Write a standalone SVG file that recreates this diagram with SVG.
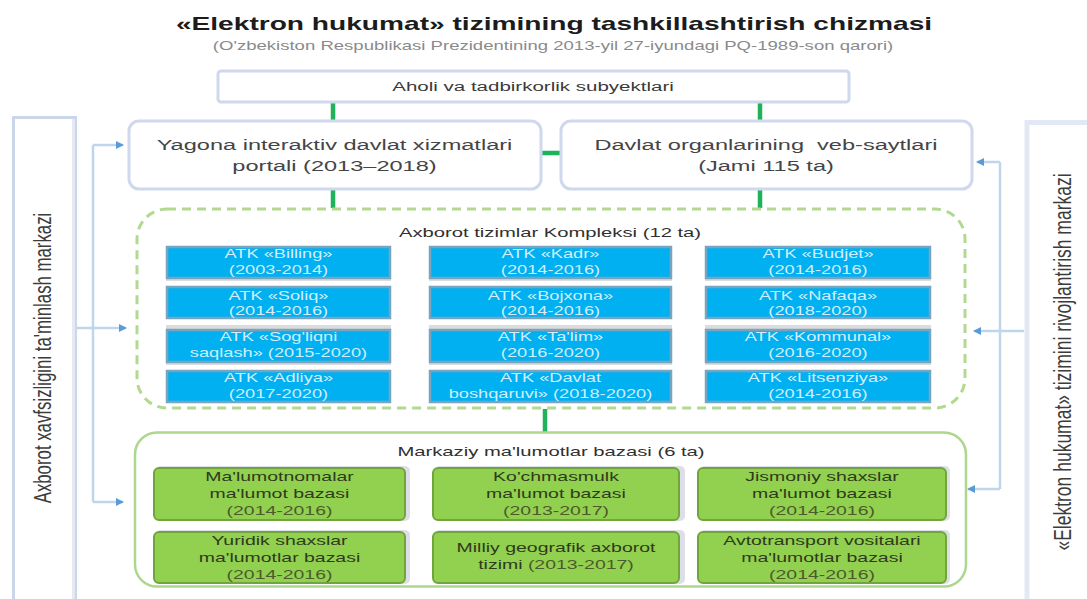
<svg xmlns="http://www.w3.org/2000/svg" width="1087" height="599" viewBox="0 0 1087 599">
<defs>
<style>
text{font-family:"Liberation Sans",Arial,sans-serif;text-anchor:middle}
.title{font-size:18.5px;font-weight:bold;fill:#1c1c1c}
.sub{font-size:12.2px;fill:#8a8a8a}
.top{font-size:13.5px;fill:#3a3a3a}
.big{font-size:15.5px;fill:#454545}
.cap{font-size:13.3px;fill:#303030}
.side{font-size:16.8px;fill:#3c3c3c}
.side2{font-size:17.5px;fill:#3c3c3c}
.bt{font-size:12px;fill:#d2edfc}
.gt{font-size:12.8px;fill:#2f3a1c}
.gy{font-size:12.8px;fill:#4c5a2c}
.wbox{fill:#fff;stroke:#cfd8ec;stroke-width:3}
.blue{fill:#00b0f0;stroke:#78a4c0;stroke-width:2.5}
.bsh{fill:#dcdcdc}
.green{fill:#92d050;stroke:#6fa53a;stroke-width:2}
.gsh{fill:#dedee6}
.gl{stroke:#1eb35a;stroke-width:4.5;fill:none}
.bl{stroke:#bdd6ee;stroke-width:2.5;fill:none}
</style>
<marker id="arr" viewBox="0 0 8 8" refX="7" refY="4" markerWidth="8" markerHeight="8" markerUnits="userSpaceOnUse" orient="auto">
<path d="M0,0 L8,4 L0,8 z" fill="#5b9bd5"/>
</marker>
</defs>
<rect width="1087" height="599" fill="#fff"/>

<g id="title">
<text class="title" transform="matrix(1.52 0 0 1 554 30)">«Elektron hukumat» tizimining tashkillashtirish chizmasi</text>
<text class="sub" transform="matrix(1.52 0 0 1 553 50)">(O'zbekiston Respublikasi Prezidentining 2013-yil 27-iyundagi PQ-1989-son qarori)</text>
</g>

<g id="left-center">
<rect x="13.5" y="117.5" width="62" height="500" fill="none" stroke="#ccd6ea" stroke-width="3"/>
<line x1="73.5" y1="119" x2="73.5" y2="599" stroke="#e4e9f4" stroke-width="3"/>
<text class="side" transform="matrix(0 -1 1.38 0 51 358)">Axborot xavfsizligini ta'minlash markazi</text>
</g>

<g id="right-center">
<rect x="1027" y="122.5" width="80" height="500" fill="none" stroke="#e3e9f4" stroke-width="5"/>
<text class="side2" transform="matrix(0 -1 1.38 0 1071 362)">«Elektron hukumat» tizimini rivojlantirish markazi</text>
</g>

<g id="connectors">
<path class="gl" d="M333 103 V120 M760 103 V120 M542 153 H560 M333 190 V208 M760 190 V208 M545 409 V432"/>
<path class="bl" d="M93 145 V502"/>
<path class="bl" d="M93 145 H123" marker-end="url(#arr)"/>
<path class="bl" d="M77 328 H126" marker-end="url(#arr)"/>
<path class="bl" d="M93 502 H123" marker-end="url(#arr)"/>
<path class="bl" d="M1000 162 V489"/>
<path class="bl" d="M1000 162 H977" marker-end="url(#arr)"/>
<path class="bl" d="M1024 331 H974" marker-end="url(#arr)"/>
<path class="bl" d="M1000 489 H968" marker-end="url(#arr)"/>
</g>

<g id="aholi">
<rect class="wbox" x="218" y="71" width="631" height="31" rx="3"/>
<text class="top" transform="matrix(1.52 0 0 1 533 91)">Aholi va tadbirkorlik subyektlari</text>
</g>

<g id="portal">
<rect class="wbox" x="129" y="121" width="412" height="68" rx="10"/>
<text class="big" transform="matrix(1.52 0 0 1 334.5 150)">Yagona interaktiv davlat xizmatlari</text>
<text class="big" transform="matrix(1.52 0 0 1 334.5 171)">portali (2013–2018)</text>
</g>

<g id="saytlar">
<rect class="wbox" x="561" y="121" width="411" height="68" rx="10"/>
<text class="big" transform="matrix(1.52 0 0 1 766 150)" xml:space="preserve">Davlat organlarining  veb-saytlari</text>
<text class="big" transform="matrix(1.52 0 0 1 766 171)">(Jami 115 ta)</text>
</g>

<g id="atk-complex">
<rect x="137" y="209" width="828" height="199" rx="30" fill="none" stroke="#b2d98f" stroke-width="3" stroke-dasharray="9 6"/>
<text class="cap" transform="matrix(1.52 0 0 1 550 237)">Axborot tizimlar Kompleksi (12 ta)</text>
</g>

<g id="atk-billing"><rect class="bsh" x="166" y="277" width="225" height="4"/><rect class="blue" x="167" y="247" width="223" height="31"/>
<text class="bt" transform="matrix(1.52 0 0 1 278.5 258)">ATK «Billing»</text><text class="bt" transform="matrix(1.52 0 0 1 278.5 274)">(2003-2014)</text></g>
<g id="atk-kadr"><rect class="bsh" x="429" y="277" width="243" height="4"/><rect class="blue" x="430" y="247" width="241" height="31"/>
<text class="bt" transform="matrix(1.52 0 0 1 550.5 258)">ATK «Kadr»</text><text class="bt" transform="matrix(1.52 0 0 1 550.5 274)">(2014-2016)</text></g>
<g id="atk-budjet"><rect class="bsh" x="705" y="277" width="226" height="4"/><rect class="blue" x="706" y="247" width="224" height="31"/>
<text class="bt" transform="matrix(1.52 0 0 1 818 258)">ATK «Budjet»</text><text class="bt" transform="matrix(1.52 0 0 1 818 274)">(2014-2016)</text></g>

<g id="atk-soliq"><rect class="bsh" x="166" y="325" width="225" height="4"/><rect class="blue" x="167" y="287" width="223" height="31"/>
<text class="bt" transform="matrix(1.52 0 0 1 278.5 300)">ATK «Soliq»</text><text class="bt" transform="matrix(1.52 0 0 1 278.5 315)">(2014-2016)</text></g>
<g id="atk-bojxona"><rect class="bsh" x="429" y="325" width="243" height="4"/><rect class="blue" x="430" y="287" width="241" height="31"/>
<text class="bt" transform="matrix(1.52 0 0 1 550.5 300)">ATK «Bojxona»</text><text class="bt" transform="matrix(1.52 0 0 1 550.5 315)">(2014-2016)</text></g>
<g id="atk-nafaqa"><rect class="bsh" x="705" y="325" width="226" height="4"/><rect class="blue" x="706" y="287" width="224" height="31"/>
<text class="bt" transform="matrix(1.52 0 0 1 818 300)">ATK «Nafaqa»</text><text class="bt" transform="matrix(1.52 0 0 1 818 315)">(2018-2020)</text></g>

<g id="atk-sogliq"><rect class="bsh" x="166" y="361" width="225" height="4"/><rect class="blue" x="167" y="330" width="223" height="32"/>
<text class="bt" transform="matrix(1.52 0 0 1 278.5 341)">ATK «Sog'liqni</text><text class="bt" transform="matrix(1.52 0 0 1 278.5 357)">saqlash» (2015-2020)</text></g>
<g id="atk-talim"><rect class="bsh" x="429" y="361" width="243" height="4"/><rect class="blue" x="430" y="330" width="241" height="32"/>
<text class="bt" transform="matrix(1.52 0 0 1 550.5 341)">ATK «Ta'lim»</text><text class="bt" transform="matrix(1.52 0 0 1 550.5 357)">(2016-2020)</text></g>
<g id="atk-kommunal"><rect class="bsh" x="705" y="361" width="226" height="4"/><rect class="blue" x="706" y="330" width="224" height="32"/>
<text class="bt" transform="matrix(1.52 0 0 1 818 341)">ATK «Kommunal»</text><text class="bt" transform="matrix(1.52 0 0 1 818 357)">(2016-2020)</text></g>

<g id="atk-adliya"><rect class="blue" x="167" y="371" width="223" height="31"/>
<text class="bt" transform="matrix(1.52 0 0 1 278.5 382)">ATK «Adliya»</text><text class="bt" transform="matrix(1.52 0 0 1 278.5 398)">(2017-2020)</text></g>
<g id="atk-davlat"><rect class="blue" x="430" y="371" width="241" height="31"/>
<text class="bt" transform="matrix(1.52 0 0 1 550.5 382)">ATK «Davlat</text><text class="bt" transform="matrix(1.52 0 0 1 550.5 398)">boshqaruvi» (2018-2020)</text></g>
<g id="atk-litsenziya"><rect class="blue" x="706" y="371" width="224" height="31"/>
<text class="bt" transform="matrix(1.52 0 0 1 818 382)">ATK «Litsenziya»</text><text class="bt" transform="matrix(1.52 0 0 1 818 398)">(2014-2016)</text></g>

<g id="mb-container">
<rect x="135" y="432.5" width="831" height="154" rx="22" fill="none" stroke="#acd78c" stroke-width="2.5"/>
<text class="cap" transform="matrix(1.52 0 0 1 551 456)">Markaziy ma'lumotlar bazasi (6 ta)</text>
</g>

<g id="mb-malumotnoma"><rect class="gsh" x="156" y="466" width="254" height="55" rx="5"/><rect class="green" x="154" y="468" width="251" height="52" rx="5"/>
<text class="gt" transform="matrix(1.52 0 0 1 279.5 481)">Ma'lumotnomalar</text><text class="gt" transform="matrix(1.52 0 0 1 279.5 498)">ma'lumot bazasi</text><text class="gy" transform="matrix(1.52 0 0 1 279.5 515)">(2014-2016)</text></g>
<g id="mb-kochmas"><rect class="gsh" x="435" y="466" width="250" height="55" rx="5"/><rect class="green" x="433" y="468" width="246" height="52" rx="5"/>
<text class="gt" transform="matrix(1.52 0 0 1 556 481)">Ko'chmasmulk</text><text class="gt" transform="matrix(1.52 0 0 1 556 498)">ma'lumot bazasi</text><text class="gy" transform="matrix(1.52 0 0 1 556 515)">(2013-2017)</text></g>
<g id="mb-jismoniy"><rect class="gsh" x="700" y="466" width="250" height="55" rx="5"/><rect class="green" x="698" y="468" width="248" height="52" rx="5"/>
<text class="gt" transform="matrix(1.52 0 0 1 822 481)">Jismoniy shaxslar</text><text class="gt" transform="matrix(1.52 0 0 1 822 498)">ma'lumot bazasi</text><text class="gy" transform="matrix(1.52 0 0 1 822 515)">(2014-2016)</text></g>

<g id="mb-yuridik"><rect class="gsh" x="156" y="530" width="254" height="54" rx="5"/><rect class="green" x="154" y="532" width="251" height="51" rx="5"/>
<text class="gt" transform="matrix(1.52 0 0 1 279.5 545)">Yuridik shaxslar</text><text class="gt" transform="matrix(1.52 0 0 1 279.5 562)">ma'lumotlar bazasi</text><text class="gy" transform="matrix(1.52 0 0 1 279.5 579)">(2014-2016)</text></g>
<g id="mb-geografik"><rect class="gsh" x="435" y="530" width="250" height="54" rx="5"/><rect class="green" x="433" y="532" width="246" height="51" rx="5"/>
<text class="gt" transform="matrix(1.52 0 0 1 556 552)">Milliy geografik axborot</text><text class="gt" transform="matrix(1.52 0 0 1 556 569)">tizimi <tspan class="gy">(2013-2017)</tspan></text></g>
<g id="mb-avtotransport"><rect class="gsh" x="700" y="530" width="250" height="54" rx="5"/><rect class="green" x="698" y="532" width="248" height="51" rx="5"/>
<text class="gt" transform="matrix(1.52 0 0 1 822 545)">Avtotransport vositalari</text><text class="gt" transform="matrix(1.52 0 0 1 822 562)">ma'lumotlar bazasi</text><text class="gy" transform="matrix(1.52 0 0 1 822 579)">(2014-2016)</text></g>
</svg>
